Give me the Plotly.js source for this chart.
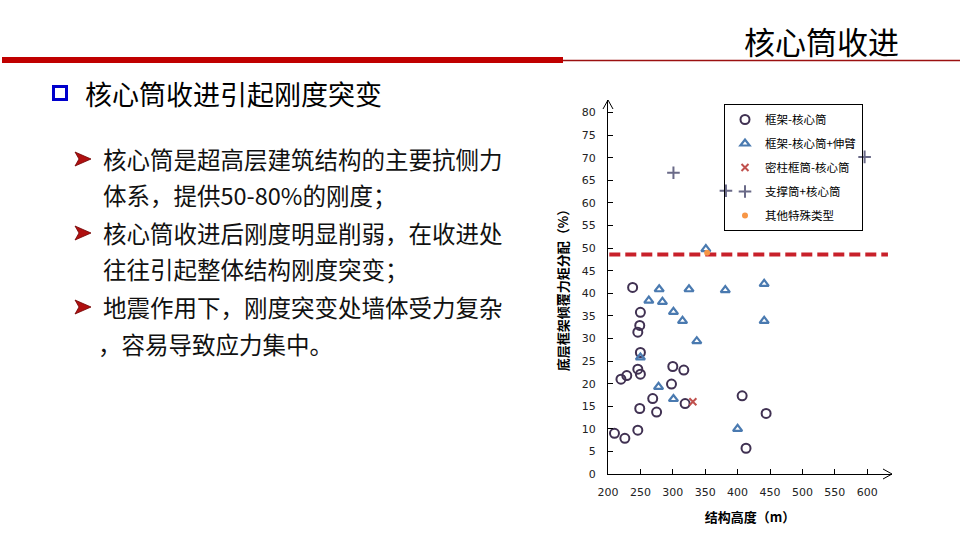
<!DOCTYPE html>
<html>
<head>
<meta charset="utf-8">
<script src="https://cdn.plot.ly/plotly-3.0.1.min.js"></script>
<style>
html,body{margin:0;padding:0;background:#fff;}
#chart{width:960px;height:540px;}
</style>
</head>
<body>
<div id="chart"></div>
<script>
// ---- data ----
const seriesNames = ['框架-核心筒', '框架-核心筒+伸臂', '密柱框筒-核心筒', '支撑筒+核心筒', '其他特殊类型'];

const frameCoreX = [238, 250, 249, 246, 250, 246, 250, 229, 220, 300, 317, 298, 269, 319, 249, 275, 407, 444, 246, 210, 226, 413];
const frameCoreY = [41.3, 35.8, 32.9, 31.4, 26.9, 23.2, 22.1, 21.8, 21.0, 23.8, 23.0, 19.9, 16.7, 15.6, 14.5, 13.7, 17.3, 13.4, 9.7, 9.0, 7.9, 5.7];

const outriggerX = [279, 263, 284, 325, 381, 441, 301, 315, 441, 337, 250, 278, 301, 400, 351];
const outriggerY = [40.9, 38.4, 38.1, 40.9, 40.7, 42.1, 35.9, 33.9, 33.9, 29.4, 25.8, 19.3, 16.6, 10.0, 49.8];

const tubeX = [331];
const tubeY = [16.0];

const bracedX = [301, 382, 596];
const bracedY = [66.7, 62.7, 70.2];

const otherX = [353];
const otherY = [49.0];

const limitValue = 48.6;
const limitFrom = 202;
const limitTo = 632;

const xTicks = [200, 250, 300, 350, 400, 450, 500, 550, 600];
const yTicks = [0, 5, 10, 15, 20, 25, 30, 35, 40, 45, 50, 55, 60, 65, 70, 75, 80];

const slideTitle = '核心筒收进';
const sectionTitle = '核心筒收进引起刚度突变';
const bulletLines = [
  ['核心筒是超高层建筑结构的主要抗侧力', '体系，提供50-80%的刚度；'],
  ['核心筒收进后刚度明显削弱，在收进处', '往往引起整体结构刚度突变；'],
  ['地震作用下，刚度突变处墙体受力复杂', '，容易导致应力集中。']
];

// ---- geometry helpers (pixel -> paper) ----
const L = 608, R = 892, T = 100, B = 474;
function px(x){ return (x - L) / (R - L); }
function py(y){ return (B - y) / (B - T); }

const cjk = '"Noto Sans CJK SC", "Noto Sans", sans-serif';
const group = i => 'g' + i;

const traces = [
  {x: frameCoreX, y: frameCoreY, name: seriesNames[0], type: 'scatter', mode: 'markers', legendgroup: group(0),
   marker: {symbol: 'circle-open', size: 9, color: '#403152', line: {width: 2, color: '#403152'}}, cliponaxis: false},
  {x: outriggerX, y: outriggerY, name: seriesNames[1], type: 'scatter', mode: 'markers', legendgroup: group(1),
   marker: {symbol: 'triangle-up-open', size: 8, color: '#4a7ab0', line: {width: 2.2, color: '#4a7ab0'}}, cliponaxis: false},
  {x: tubeX, y: tubeY, name: seriesNames[2], type: 'scatter', mode: 'markers', legendgroup: group(2),
   marker: {symbol: 'x-thin-open', size: 7, color: '#c0504d', line: {width: 2, color: '#c0504d'}}, cliponaxis: false},
  {x: bracedX, y: bracedY, name: seriesNames[3], type: 'scatter', mode: 'markers', legendgroup: group(3),
   marker: {symbol: 'cross-thin-open', size: 9, color: '#6a6a88', line: {width: 2, color: '#6a6a88'}}, cliponaxis: false},
  {x: otherX, y: otherY, name: seriesNames[4], type: 'scatter', mode: 'markers', legendgroup: group(4),
   marker: {symbol: 'circle', size: 6, color: '#f79646'}, cliponaxis: false}
];

const shapes = [
  {type: 'line', xref: 'x', yref: 'y', x0: limitFrom, x1: limitTo, y0: limitValue, y1: limitValue,
   line: {color: '#c8202a', width: 4, dash: '11px,5px'}, layer: 'below'},
  {type: 'path', xref: 'paper', yref: 'paper',
   path: `M ${px(R-9)} ${py(B-5)} L ${px(R)} ${py(B)} L ${px(R-9)} ${py(B+5)}`,
   line: {color: '#000', width: 1}},
  {type: 'path', xref: 'paper', yref: 'paper',
   path: `M ${px(L-5)} ${py(T+9)} L ${px(L)} ${py(T)} L ${px(L+5)} ${py(T+9)}`,
   line: {color: '#000', width: 1}},
  {type: 'rect', xref: 'paper', yref: 'paper', x0: px(2), x1: px(563), y0: py(57), y1: py(63),
   fillcolor: '#c00000', line: {width: 0}},
  {type: 'line', xref: 'paper', yref: 'paper', x0: px(563), x1: px(960), y0: py(60.5), y1: py(60.5),
   line: {color: '#9b1010', width: 1.5}},
  {type: 'rect', xref: 'paper', yref: 'paper', x0: px(53.5), x1: px(66.5), y0: py(86.5), y1: py(99.5),
   fillcolor: 'rgba(0,0,0,0)', line: {color: '#0000cc', width: 3}}
];

const annotations = [
  {text: slideTitle, xref: 'paper', yref: 'paper', x: px(901), y: py(40), xanchor: 'right', yanchor: 'middle',
   showarrow: false, font: {family: cjk, size: 31, color: '#000'}},
  {text: sectionTitle, xref: 'paper', yref: 'paper', x: px(83), y: py(94), xanchor: 'left', yanchor: 'middle',
   showarrow: false, font: {family: cjk, size: 27, color: '#000'}}
];

const lineY = [[159, 195], [233, 269], [307, 344]];
bulletLines.forEach((pair, i) => {
  const yc = lineY[i][0];
  shapes.push({type: 'path', xref: 'paper', yref: 'paper',
    path: `M ${px(75)} ${py(yc-7)} L ${px(91)} ${py(yc)} L ${px(75)} ${py(yc+7)} L ${px(79)} ${py(yc)} Z`,
    fillcolor: '#b01010', line: {color: '#700000', width: 0.8}});
  pair.forEach((t, j) => {
    annotations.push({text: t, xref: 'paper', yref: 'paper', x: px(j === 1 && t.startsWith('，') ? 96 : 101),
      y: py(lineY[i][j]), xanchor: 'left', yanchor: 'middle', showarrow: false,
      font: {family: cjk, size: 23.5, color: '#111'}});
  });
});

const layout = {
  width: 960, height: 540,
  margin: {l: L, r: 960 - R, t: T, b: 540 - B, pad: 0},
  paper_bgcolor: '#fff', plot_bgcolor: '#fff',
  showlegend: true,
  legend: {x: px(724), y: py(104), xanchor: 'left', yanchor: 'top',
    bgcolor: 'rgba(255,255,255,0)', bordercolor: '#000', borderwidth: 1,
    font: {family: cjk, size: 11.5, color: '#000'}, tracegroupgap: 5, itemwidth: 30},
  xaxis: {range: [200, 200 + (R - L) / 0.648], tickvals: xTicks, ticktext: xTicks.map(String),
    showline: true, linecolor: '#000', linewidth: 1, ticks: 'inside', ticklen: 5, tickcolor: '#000',
    ticklabelstandoff: 8,
    showgrid: false, zeroline: false, fixedrange: true,
    tickfont: {family: '"DejaVu Sans", Verdana, sans-serif', size: 11, color: '#222'},
    title: {text: '<b>结构高度（m）</b>', font: {family: cjk, size: 13, color: '#000'}, standoff: 14}},
  yaxis: {range: [0, (B - T) / 4.517], tickvals: yTicks, ticktext: yTicks.map(String),
    showline: true, linecolor: '#000', linewidth: 1, ticks: 'inside', ticklen: 5, tickcolor: '#000',
    ticklabelstandoff: 9,
    showgrid: false, zeroline: false, fixedrange: true,
    tickfont: {family: '"DejaVu Sans", Verdana, sans-serif', size: 11, color: '#222'},
    title: {text: '<b>底层框架倾覆力矩分配（%）</b>', font: {family: cjk, size: 13, color: '#000'}, standoff: 10}},
  shapes: shapes,
  annotations: annotations
};

Plotly.newPlot('chart', traces, layout, {displayModeBar: false, staticPlot: true});
</script>
</body>
</html>
